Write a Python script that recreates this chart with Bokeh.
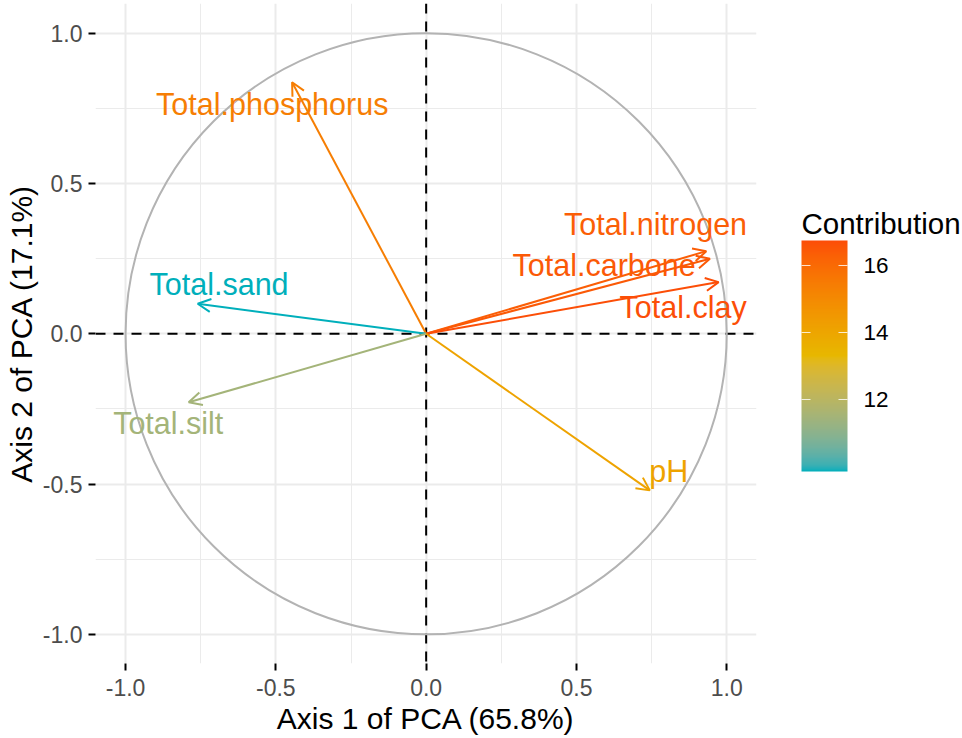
import numpy as np
from bokeh.plotting import figure
from bokeh.layouts import row
from bokeh.models import (ColumnDataSource, Range1d, FixedTicker, Span, Arrow, OpenHead,
                          LinearColorMapper, ColorBar, Label)
from bokeh.transform import transform
from bokeh.core.properties import value
from bokeh.embed import file_html
from bokeh.resources import INLINE

# ---------------- data ----------------
variables = ["Total.phosphorus", "Total.nitrogen", "Total.carbone", "Total.clay",
             "Total.sand", "Total.silt", "pH"]
dim1 = [-0.446, 0.932, 0.944, 0.973, -0.760, -0.790, 0.744]
dim2 = [0.837, 0.275, 0.250, 0.172, 0.100, -0.228, -0.521]
contrib = [15.40, 16.35, 16.45, 16.74, 9.87, 11.50, 14.10]
# repelled label positions (data units)
label_x = [-0.512, 0.763, 0.592, 0.855, -0.689, -0.858, 0.807]
label_y = [0.763, 0.366, 0.228, 0.0885, 0.167, -0.298, -0.455]

tick_vals = [-1.0, -0.5, 0.0, 0.5, 1.0]
tick_labels = ["-1.0", "-0.5", "0.0", "0.5", "1.0"]
minor_vals = [-0.75, -0.25, 0.25, 0.75]
legend_ticks = [12, 14, 16]
x_title = "Axis 1 of PCA (65.8%)"
y_title = "Axis 2 of PCA (17.1%)"
legend_title = "Contribution"
gradient_cols = ["#00AFBB", "#E7B800", "#FC4E07"]

# ---------------- palette (Lab interpolation, like scales::gradient_n_pal) ----------------
def hex_to_rgb(h):
    h = h.lstrip("#")
    return np.array([int(h[i:i + 2], 16) / 255.0 for i in (0, 2, 4)])

def srgb_to_lin(c):
    return np.where(c <= 0.04045, c / 12.92, ((c + 0.055) / 1.055) ** 2.4)

def lin_to_srgb(c):
    c = np.clip(c, 0, 1)
    return np.where(c <= 0.0031308, 12.92 * c, 1.055 * c ** (1 / 2.4) - 0.055)

M = np.array([[0.4124, 0.3576, 0.1805], [0.2126, 0.7152, 0.0722], [0.0193, 0.1192, 0.9505]])
Minv = np.linalg.inv(M)
WP = np.array([0.95047, 1.0, 1.08883])

def f_lab(t):
    d = 6 / 29
    return np.where(t > d ** 3, np.cbrt(t), t / (3 * d * d) + 4 / 29)

def finv_lab(t):
    d = 6 / 29
    return np.where(t > d, t ** 3, 3 * d * d * (t - 4 / 29))

def rgb_to_lab(rgb):
    xyz = M @ srgb_to_lin(rgb) / WP
    fx, fy, fz = f_lab(xyz)
    return np.array([116 * fy - 16, 500 * (fx - fy), 200 * (fy - fz)])

def lab_to_hex(lab):
    L, a, b = lab
    fy = (L + 16) / 116
    fx = fy + a / 500
    fz = fy - b / 200
    xyz = np.array([finv_lab(fx), finv_lab(fy), finv_lab(fz)]) * WP
    rgb = lin_to_srgb(Minv @ xyz)
    r, g, bb = (np.round(rgb * 255)).astype(int)
    return "#%02x%02x%02x" % (r, g, bb)

labs = [rgb_to_lab(hex_to_rgb(c)) for c in gradient_cols]
palette = []
N = 256
for i in range(N):
    t = i / (N - 1) * (len(labs) - 1)
    k = min(int(t), len(labs) - 2)
    u = t - k
    palette.append(lab_to_hex(labs[k] * (1 - u) + labs[k + 1] * u))

mapper = LinearColorMapper(palette=palette, low=min(contrib), high=max(contrib))

src = ColumnDataSource(dict(
    x0=[0.0] * len(variables), y0=[0.0] * len(variables),
    x1=dim1, y1=dim2, contrib=contrib, name=variables, lx=label_x, ly=label_y))

# ---------------- main figure ----------------
FONT = "Liberation Sans"
p = figure(width=796, height=738, output_backend="svg", toolbar_location=None,
           x_range=Range1d(-1.1, 1.099), y_range=Range1d(-1.097, 1.099),
           min_border_left=95, min_border_right=40, min_border_top=3, min_border_bottom=75,
           background_fill_color="white", border_fill_color="white")
p.outline_line_color = None

for ax, title in ((p.xaxis[0], x_title), (p.yaxis[0], y_title)):
    ax.ticker = FixedTicker(ticks=tick_vals, minor_ticks=minor_vals)
    ax.major_label_overrides = {v: l for v, l in zip(tick_vals, tick_labels)}
    ax.axis_label = title
    ax.axis_label_text_font = FONT
    ax.axis_label_text_font_size = "30px"
    ax.axis_label_text_font_style = "normal"
    ax.axis_label_text_color = "black"
    ax.major_label_text_font = FONT
    ax.major_label_text_font_size = "23px"
    ax.major_label_text_color = "#4D4D4D"
    ax.axis_line_color = None
    ax.major_tick_line_color = "black"
    ax.major_tick_line_width = 2
    ax.major_tick_out = 7
    ax.major_tick_in = 0
    ax.minor_tick_line_color = None
p.xaxis[0].major_label_standoff = 8
p.xaxis[0].axis_label_standoff = 3
p.yaxis[0].major_label_standoff = 6
p.yaxis[0].axis_label_standoff = 2

for g in (p.xgrid[0], p.ygrid[0]):
    g.ticker = FixedTicker(ticks=tick_vals, minor_ticks=minor_vals)
    g.grid_line_color = "#EBEBEB"
    g.grid_line_width = 2
    g.minor_grid_line_color = "#EBEBEB"
    g.minor_grid_line_width = 1

# dashed reference lines
for dim in ("width", "height"):
    p.add_layout(Span(location=0, dimension=dim, line_color="black", line_width=2,
                      line_dash="10 8", level="underlay"))

# correlation circle
p.ellipse(x=0, y=0, width=2, height=2, fill_color=None, line_color="#B3B3B3", line_width=2)

# arrows
col = transform("contrib", mapper)
p.add_layout(Arrow(source=src, x_start="x0", y_start="y0", x_end="x1", y_end="y1",
                   line_color=col, line_width=2,
                   end=OpenHead(size=13, line_color=col, line_width=2)))

# labels
p.text(x="lx", y="ly", text="name", source=src, text_color=col,
       text_font=value(FONT), text_font_size="30.5px",
       text_align="center", text_baseline="middle")

# ---------------- legend figure (colour bar + title) ----------------
# (its frame is aligned with the main frame by the row layout)
lg = figure(width=166, height=738, output_backend="svg", toolbar_location=None,
            x_axis_location=None, y_axis_location=None,
            min_border_left=0, min_border_right=0, min_border_top=0, min_border_bottom=0,
            background_fill_color="white", border_fill_color="white")
lg.outline_line_color = None
lg.xgrid.visible = False
lg.ygrid.visible = False

common = dict(color_mapper=mapper, ticker=FixedTicker(ticks=legend_ticks), title=None,
              major_label_text_font=FONT, major_label_text_font_size="22.5px",
              major_tick_line_color="white", major_tick_line_alpha=0.8,
              major_tick_in=9, major_tick_out=0, height=231, padding=0, margin=0,
              bar_line_color=None, border_line_color=None, background_fill_color=None)
cb = ColorBar(major_label_text_color="black", label_standoff=16, width=46,
              location=(5, 192), **common)
lg.add_layout(cb, "center")
# transparent twin bar that only contributes the tick marks on the left edge
cb_left = ColorBar(major_label_text_color=None, label_standoff=16, width=9, scale_alpha=0,
                   location=(5, 192), **common)
lg.add_layout(cb_left, "center")
lg.add_layout(Label(x=5, y=440, x_units="screen", y_units="screen", text=legend_title,
                    text_font=FONT, text_font_size="29.5px", text_color="black",
                    text_align="left", text_baseline="alphabetic"))

layout = row(p, lg, spacing=0)
open("out.html", "w").write(file_html(layout, INLINE))
